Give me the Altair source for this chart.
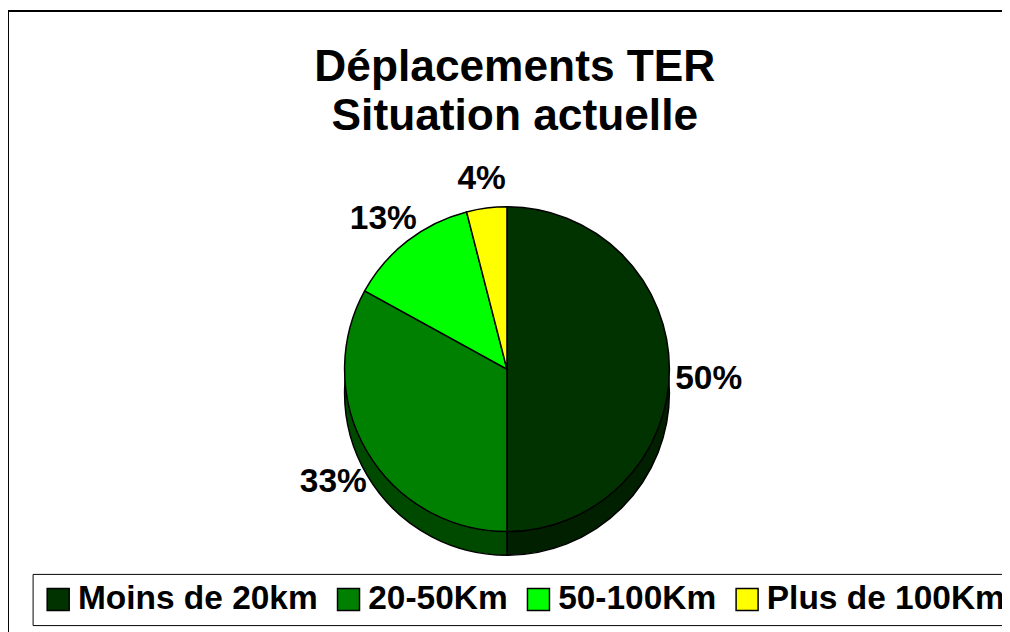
import altair as alt
import pandas as pd

categories = ["Moins de 20km", "20-50Km", "50-100Km", "Plus de 100Km"]
values = [50, 33, 13, 4]
labels = ["50%", "33%", "13%", "4%"]
top_colors = ["#003300", "#008000", "#00FF00", "#FFFF00"]
side_colors = ["#002000", "#004A00", "#00B000", "#B0B000"]
title_lines = ["Déplacements TER", "Situation actuelle"]

df = pd.DataFrame({"cat": categories, "value": values, "label": labels, "idx": list(range(len(categories)))})

FONT = "Liberation Sans"
CX, CY, R, DEPTH = 507, 362, 165, 24

base = alt.Chart(df).encode(
    theta=alt.Theta("value:Q", stack=True),
    order=alt.Order("idx:Q"),
)

side = base.mark_arc(outerRadius=R, stroke="black", strokeWidth=1.5).encode(
    x=alt.value(CX), y=alt.value(CY + DEPTH),
    color=alt.Color("cat:N", scale=alt.Scale(domain=categories, range=side_colors), legend=None),
)

top = base.mark_arc(outerRadius=R, stroke="black", strokeWidth=1.5).encode(
    x=alt.value(CX), y=alt.value(CY),
    color=alt.Color(
        "cat:N",
        scale=alt.Scale(domain=categories, range=top_colors),
        sort=categories,
        legend=alt.Legend(
            title=None, orient="none", legendX=25, legendY=570, direction="horizontal",
            symbolType="square", symbolSize=500, symbolStrokeColor="black", symbolStrokeWidth=1.5,
            labelFont=FONT, labelFontSize=34, labelFontWeight="bold", labelColor="black",
            labelLimit=500, labelOffset=3, columnPadding=14, padding=9,
            fillColor="white", strokeColor="black", symbolOpacity=1,
        ),
    ),
)

text = base.mark_text(radius=R + 40, font=FONT, fontSize=34, fontWeight="bold", color="black").encode(
    x=alt.value(CX), y=alt.value(CY + 10), text="label:N"
)

border = alt.Chart(alt.Data(values=[{}])).mark_rect(filled=False, stroke="black", strokeWidth=2).encode(
    x=alt.value(0), x2=alt.value(1030), y=alt.value(-2), y2=alt.value(700)
)

chart = alt.layer(border, side, top, text).resolve_scale(color="independent").properties(
    width=1010, height=624, padding=0,
    autosize=alt.AutoSizeParams(type="none"),
    title=alt.TitleParams(
        title_lines, font=FONT, fontSize=45, fontWeight="bold", color="black",
        anchor="start", orient="top", offset=-167, baseline="alphabetic", lineHeight=50, dx=516,
        align="center",
    ),
).configure_view(strokeWidth=0)

chart.save("out.html", embed_options={"renderer": "svg", "actions": False})
